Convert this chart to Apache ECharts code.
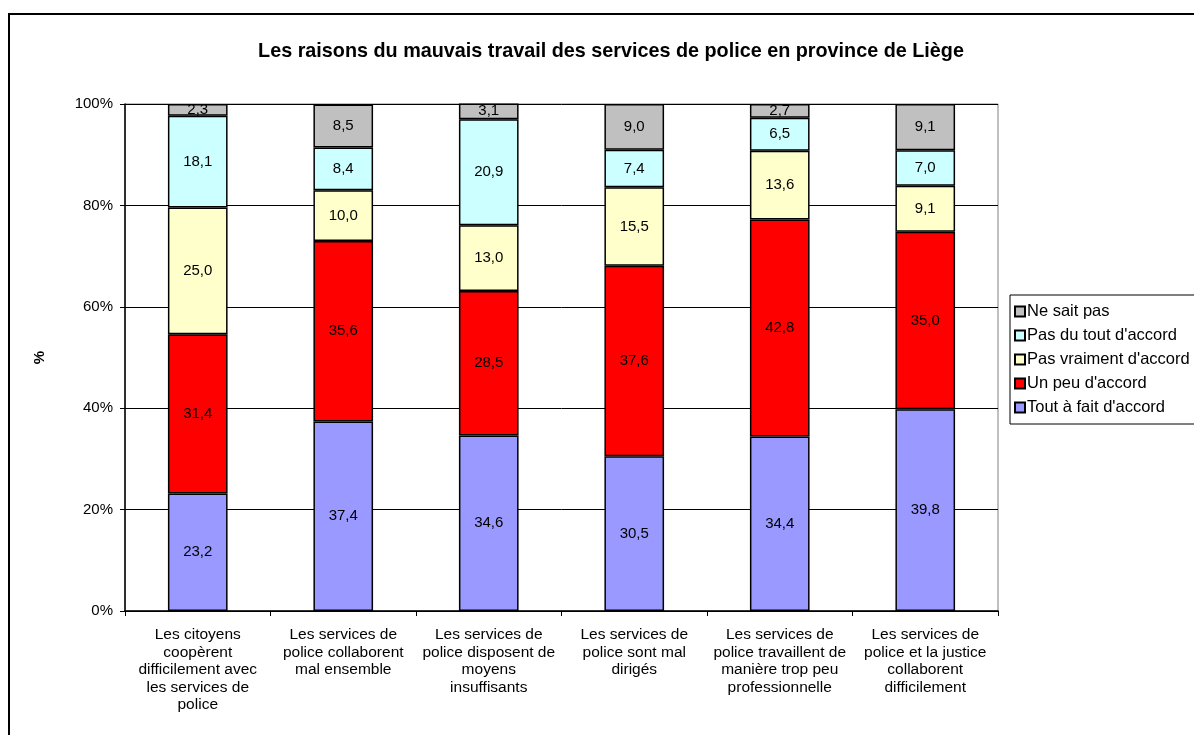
<!DOCTYPE html>
<html>
<head>
<meta charset="utf-8">
<script src="https://cdn.jsdelivr.net/npm/echarts@6/dist/echarts.min.js"></script>
<style>
  html, body { margin: 0; padding: 0; background: #fff; }
  #chartDiv { width: 1194px; height: 735px; }
</style>
</head>
<body>
<div id="chartDiv"></div>
<script>
var categories = [
    'Les citoyens\ncoopèrent\ndifficilement avec\nles services de\npolice',
    'Les services de\npolice collaborent\nmal ensemble',
    'Les services de\npolice disposent de\nmoyens\ninsuffisants',
    'Les services de\npolice sont mal\ndirigés',
    'Les services de\npolice travaillent de\nmanière trop peu\nprofessionnelle',
    'Les services de\npolice et la justice\ncollaborent\ndifficilement'
];
var toutAFait = [23.2, 37.4, 34.6, 30.5, 34.4, 39.8];
var unPeu = [31.4, 35.6, 28.5, 37.6, 42.8, 35.0];
var pasVraiment = [25.0, 10.0, 13.0, 15.5, 13.6, 9.1];
var pasDuTout = [18.1, 8.4, 20.9, 7.4, 6.5, 7.0];
var neSaitPas = [2.3, 8.5, 3.1, 9.0, 2.7, 9.1];
var yTicks = [0, 20, 40, 60, 80, 100];

var fontName = 'Liberation Sans, Arial, sans-serif';

function makeSerie(name, data, color) {
    return {
        name: name,
        type: 'bar',
        stack: 'total',
        barCategoryGap: '59%',
        data: data,
        itemStyle: { color: color, borderColor: '#000', borderWidth: 1.5 },
        label: {
            show: true,
            position: 'inside',
            color: '#000',
            fontFamily: fontName,
            fontSize: 15,
            formatter: function (p) { return p.value.toFixed(1).replace('.', ','); }
        }
    };
}

var chart = echarts.init(document.getElementById('chartDiv'));
var option = {
    animation: false,
    textStyle: { fontFamily: fontName },
    graphic: [{
        type: 'rect',
        shape: { x: 9, y: 14, width: 1200, height: 740 },
        style: { fill: 'none', stroke: '#000', lineWidth: 2 },
        silent: true
    }],
    title: {
        text: 'Les raisons du mauvais travail des services de police en province de Liège',
        left: 606,
        textAlign: 'center',
        top: 37,
        textStyle: { fontFamily: fontName, fontSize: 19.8, fontWeight: 'bold', color: '#000' }
    },
    legend: {
        orient: 'vertical',
        left: 1010,
        top: 295,
        padding: [8, 30, 8, 4],
        itemGap: 7,
        itemWidth: 10,
        itemHeight: 10,
        icon: 'rect',
        borderColor: '#000',
        borderWidth: 1,
        textStyle: { fontFamily: fontName, fontSize: 16.5, color: '#000', padding: [0, 0, 0, -3] },
        data: ['Ne sait pas', "Pas du tout d'accord", "Pas vraiment d'accord", "Un peu d'accord", "Tout à fait d'accord"]
    },
    grid: {
        left: 125, top: 104, right: 196, bottom: 124,
        show: true, borderColor: '#808080', borderWidth: 1
    },
    xAxis: {
        type: 'category',
        data: categories,
        axisLine: { lineStyle: { color: '#000', width: 1.5 } },
        axisTick: { show: true, length: 5, lineStyle: { color: '#000' } },
        axisLabel: {
            interval: 0,
            margin: 15,
            lineHeight: 17.5,
            color: '#000',
            fontFamily: fontName,
            fontSize: 15.5
        }
    },
    yAxis: {
        type: 'value',
        min: yTicks[0],
        max: yTicks[yTicks.length - 1],
        interval: 20,
        name: '%',
        nameLocation: 'middle',
        nameGap: 78,
        nameRotate: 90,
        nameTextStyle: { fontFamily: fontName, fontSize: 15, fontWeight: 'bold', color: '#000' },
        axisLine: { show: true, lineStyle: { color: '#000', width: 1.5 } },
        axisTick: { show: true, length: 5, inside: false, lineStyle: { color: '#000' } },
        axisLabel: {
            color: '#000',
            fontFamily: fontName,
            fontSize: 15,
            margin: 12,
            formatter: '{value}%'
        },
        splitLine: { show: true, lineStyle: { color: '#000', width: 1 } }
    },
    series: [
        makeSerie("Tout à fait d'accord", toutAFait, '#9999FF'),
        makeSerie("Un peu d'accord", unPeu, '#FF0000'),
        makeSerie("Pas vraiment d'accord", pasVraiment, '#FFFFCC'),
        makeSerie("Pas du tout d'accord", pasDuTout, '#CCFFFF'),
        makeSerie('Ne sait pas', neSaitPas, '#C0C0C0')
    ]
};
chart.setOption(option);
</script>
</body>
</html>
